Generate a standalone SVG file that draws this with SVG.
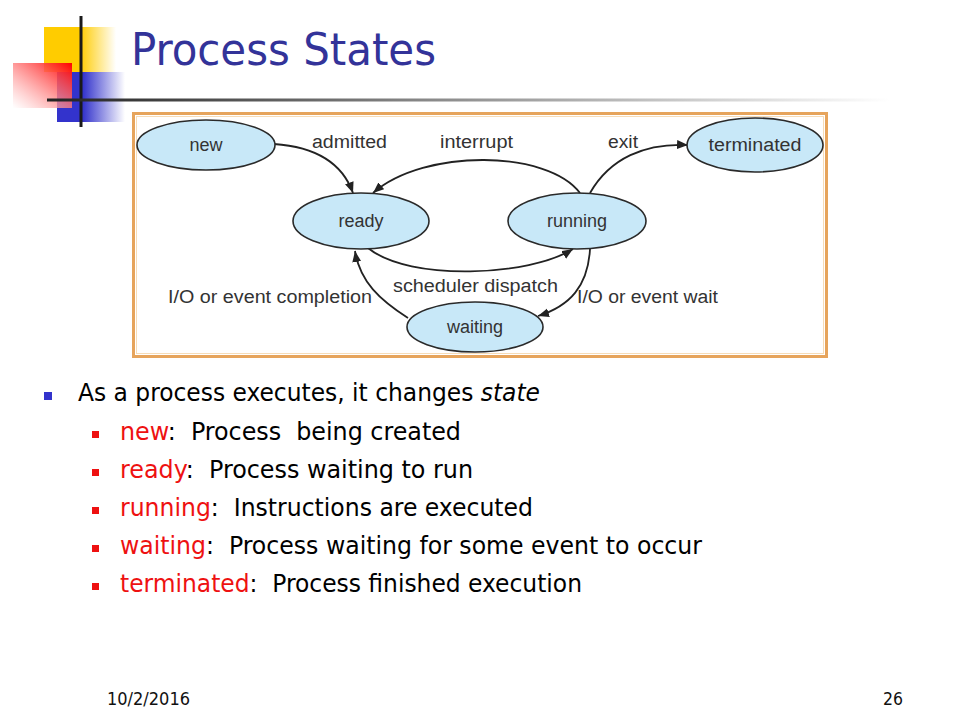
<svg xmlns="http://www.w3.org/2000/svg" width="960" height="720" viewBox="0 0 960 720">
<defs>
<style>
.title{font-family:"DejaVu Sans Condensed","DejaVu Sans",sans-serif;font-size:44px;fill:#333399}
.node ellipse{fill:#c8e8f8;stroke:#2a2a2a;stroke-width:1.6}
.nl{font-family:"Liberation Sans",Arial,sans-serif;font-size:18px;fill:#333;text-anchor:middle}
.el{font-family:"Liberation Sans",Arial,sans-serif;font-size:18px;fill:#333}
.conn path{fill:none;stroke:#222;stroke-width:1.8}
.body{font-family:"DejaVu Sans Condensed","DejaVu Sans",sans-serif;font-size:24px;fill:#000}
.red{fill:#ee1111}
.foot{font-family:"DejaVu Sans Condensed","DejaVu Sans",sans-serif;font-size:18px;fill:#111}
</style>
<linearGradient id="gy" x1="0" y1="0" x2="1" y2="0"><stop offset="0.5" stop-color="#ffcc00"/><stop offset="1" stop-color="#ffcc00" stop-opacity="0"/></linearGradient>
<linearGradient id="gb" x1="0" y1="0" x2="1" y2="0"><stop offset="0.38" stop-color="#3333cc"/><stop offset="1" stop-color="#3333cc" stop-opacity="0"/></linearGradient>
<linearGradient id="gr" x1="1" y1="0" x2="0" y2="1"><stop offset="0" stop-color="#ff0000"/><stop offset="1" stop-color="#ffffff" stop-opacity="0.6"/></linearGradient>
<linearGradient id="gl" gradientUnits="userSpaceOnUse" x1="47" y1="0" x2="890" y2="0"><stop offset="0" stop-color="#222"/><stop offset="0.45" stop-color="#888"/><stop offset="1" stop-color="#fff"/></linearGradient>
<marker id="ah" markerUnits="userSpaceOnUse" markerWidth="12" markerHeight="10" refX="11" refY="4.5" orient="auto"><path d="M0,0 L11,4.5 L0,9 Z" fill="#222"/></marker>
</defs>
<rect width="960" height="720" fill="#fff"/>
<g id="logo">
<rect x="44" y="27" width="72" height="45" fill="url(#gy)"/>
<rect x="57" y="72" width="68" height="50" fill="url(#gb)"/>
<rect x="13" y="63" width="59" height="45" fill="url(#gr)"/>
<line x1="81" y1="16" x2="81" y2="127" stroke="#1a1a1a" stroke-width="3"/>
<rect x="47" y="98.5" width="843" height="3" fill="url(#gl)"/>
</g>
<text class="title" x="131" y="65" textLength="305" lengthAdjust="spacingAndGlyphs">Process States</text>
<g id="frame">
<rect x="133.5" y="113.5" width="693" height="243" fill="#fff" stroke="#e6a45c" stroke-width="3"/>
<rect x="136.5" y="116.5" width="687" height="237" fill="none" stroke="#f6dcb8" stroke-width="1"/>
</g>
<g id="connectors" class="conn">
<path d="M274,144 C318,147 343,165 353,193" marker-end="url(#ah)"/>
<path d="M580,193 C548,150 425,148 373,193" marker-end="url(#ah)"/>
<path d="M590,193 C610,158 645,143 688,145" marker-end="url(#ah)"/>
<path d="M368,248 C410,282 530,276 573,249" marker-end="url(#ah)"/>
<path d="M590,249 C588,286 570,306 538,316" marker-end="url(#ah)"/>
<path d="M408,318 C380,300 360,282 355,251" marker-end="url(#ah)"/>
</g>
<g id="node-new" class="node"><ellipse cx="206" cy="145" rx="69" ry="25"/><text class="nl" x="206" y="151">new</text></g>
<g id="node-ready" class="node"><ellipse cx="361" cy="221" rx="68" ry="28"/><text class="nl" x="361" y="227">ready</text></g>
<g id="node-running" class="node"><ellipse cx="577" cy="221" rx="69" ry="28"/><text class="nl" x="577" y="227">running</text></g>
<g id="node-terminated" class="node"><ellipse cx="755" cy="145" rx="68" ry="27"/><text class="nl" x="755" y="151" textLength="93" lengthAdjust="spacingAndGlyphs">terminated</text></g>
<g id="node-waiting" class="node"><ellipse cx="475" cy="327" rx="68" ry="25"/><text class="nl" x="475" y="333">waiting</text></g>
<g id="edge-labels">
<text class="el" x="312" y="148" textLength="75" lengthAdjust="spacingAndGlyphs">admitted</text>
<text class="el" x="440" y="148" textLength="73" lengthAdjust="spacingAndGlyphs">interrupt</text>
<text class="el" x="608" y="148" textLength="30" lengthAdjust="spacingAndGlyphs">exit</text>
<text class="el" x="393" y="292" textLength="165" lengthAdjust="spacingAndGlyphs">scheduler dispatch</text>
<text class="el" x="168" y="303" textLength="204" lengthAdjust="spacingAndGlyphs">I/O or event completion</text>
<text class="el" x="577" y="303" textLength="141" lengthAdjust="spacingAndGlyphs">I/O or event wait</text>
</g>
<g id="bullets">
<rect x="44" y="392" width="8" height="8" fill="#3333cc"/>
<text class="body" x="78" y="401" textLength="462" lengthAdjust="spacingAndGlyphs">As a process executes, it changes <tspan font-style="italic">state</tspan></text>
<rect x="92" y="431" width="7" height="7" fill="#ee1111"/>
<text class="body" x="120" y="440" xml:space="preserve" textLength="341" lengthAdjust="spacingAndGlyphs"><tspan class="red">new</tspan>:  Process  being created</text>
<rect x="92" y="469" width="7" height="7" fill="#ee1111"/>
<text class="body" x="120" y="478" xml:space="preserve" textLength="353" lengthAdjust="spacingAndGlyphs"><tspan class="red">ready</tspan>:  Process waiting to run</text>
<rect x="92" y="507" width="7" height="7" fill="#ee1111"/>
<text class="body" x="120" y="516" xml:space="preserve" textLength="413" lengthAdjust="spacingAndGlyphs"><tspan class="red">running</tspan>:  Instructions are executed</text>
<rect x="92" y="545" width="7" height="7" fill="#ee1111"/>
<text class="body" x="120" y="554" xml:space="preserve" textLength="582" lengthAdjust="spacingAndGlyphs"><tspan class="red">waiting</tspan>:  Process waiting for some event to occur</text>
<rect x="92" y="583" width="7" height="7" fill="#ee1111"/>
<text class="body" x="120" y="592" xml:space="preserve" textLength="462" lengthAdjust="spacingAndGlyphs"><tspan class="red">terminated</tspan>:  Process finished execution</text>
</g>
<text class="foot" x="107" y="705" textLength="83" lengthAdjust="spacingAndGlyphs">10/2/2016</text>
<text class="foot" x="883" y="705" textLength="20" lengthAdjust="spacingAndGlyphs">26</text>
</svg>
